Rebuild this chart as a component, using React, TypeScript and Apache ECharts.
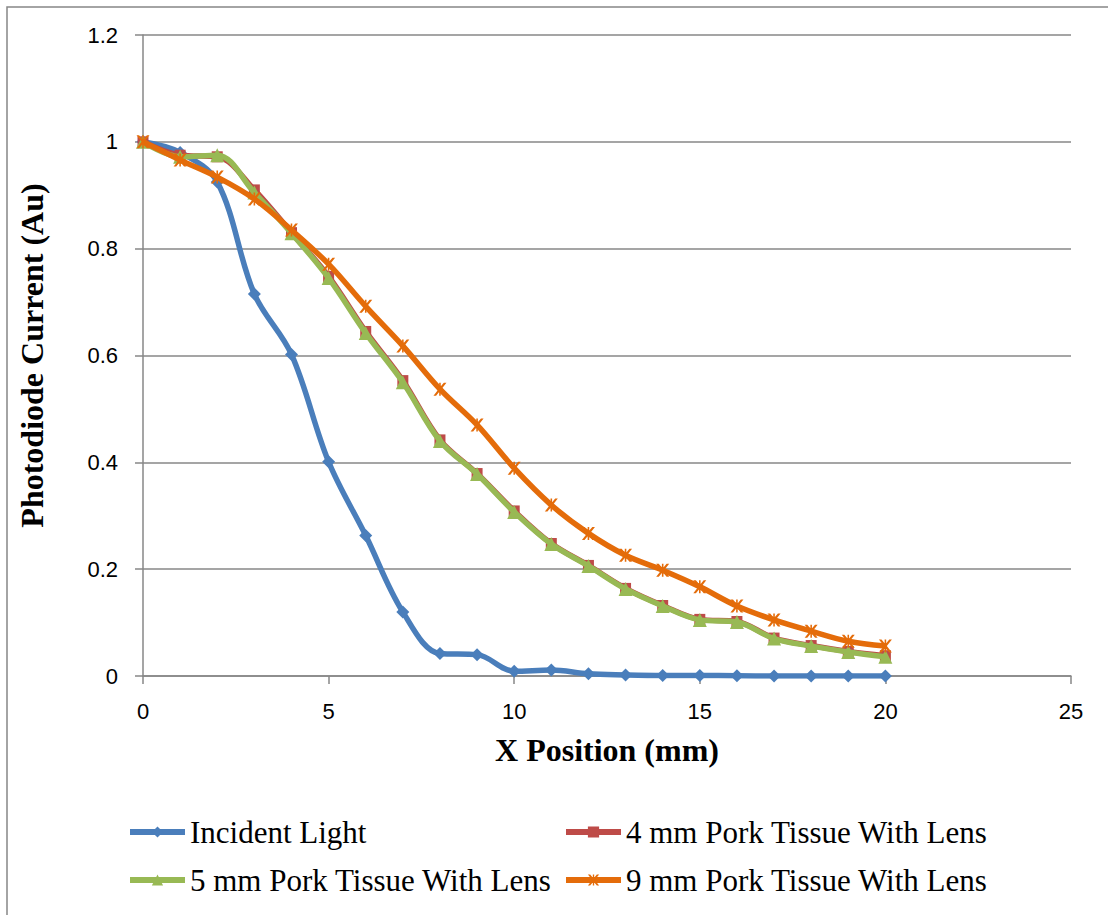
import React, { useEffect, useRef } from "react";
import * as echarts from "echarts";

const xPositions = [0, 1, 2, 3, 4, 5, 6, 7, 8, 9, 10, 11, 12, 13, 14, 15, 16, 17, 18, 19, 20];
const incidentLight = [1, 0.98, 0.925, 0.715, 0.602, 0.401, 0.263, 0.12, 0.042, 0.04, 0.009, 0.011, 0.004, 0.002, 0.001, 0.001, 0.0005, 0, 0, 0, 0];
const pork4mm = [1, 0.975, 0.972, 0.91, 0.83, 0.748, 0.645, 0.553, 0.442, 0.379, 0.309, 0.248, 0.207, 0.164, 0.132, 0.106, 0.102, 0.071, 0.057, 0.046, 0.038];
const pork5mm = [1, 0.972, 0.975, 0.905, 0.829, 0.745, 0.642, 0.55, 0.44, 0.378, 0.307, 0.247, 0.206, 0.163, 0.131, 0.105, 0.101, 0.07, 0.056, 0.045, 0.036];
const pork9mm = [1, 0.966, 0.934, 0.893, 0.835, 0.771, 0.692, 0.618, 0.537, 0.47, 0.389, 0.32, 0.267, 0.226, 0.198, 0.167, 0.131, 0.105, 0.084, 0.065, 0.056];

const seriesNames = [
  "Incident Light",
  "4 mm Pork Tissue With Lens",
  "5 mm Pork Tissue With Lens",
  "9 mm Pork Tissue With Lens",
];
const xTitle = "X Position (mm)";
const yTitle = "Photodiode Current (Au)";

const starPath =
  "path://M0,0 L2,0 L5,3.6 L8,0 L10,0 L6.1,5 L10,10 L8,10 L5,6.4 L2,10 L0,10 L3.9,5 Z M4.4,0 L5.6,0 L5.6,10 L4.4,10 Z";

function pairs(ys: number[]) {
  return xPositions.map((x, i) => [x, ys[i]]);
}

export default function App() {
  const ref = useRef<HTMLDivElement>(null);
  useEffect(() => {
    if (!ref.current) return;
    const chart = echarts.init(ref.current, null, { renderer: "svg" });
    const gray = "#878787";
    const serif = "'Liberation Serif', 'Times New Roman', serif";
    const sans = "'Liberation Sans', Arial, sans-serif";
    const colors = ["#4A7EBB", "#BE4B48", "#98B954", "#E46C0A"];
    const symbols = ["diamond", "rect", "triangle", starPath];
    const sizes = [13, 11, 14, 13];
    const datasets = [incidentLight, pork4mm, pork5mm, pork9mm];
    const legendPos = [
      { left: 127, top: 815 },
      { left: 563, top: 815 },
      { left: 127, top: 863 },
      { left: 563, top: 863 },
    ];
    chart.setOption({
      animation: false,
      backgroundColor: "#ffffff",
      graphic: [
        {
          type: "rect",
          shape: { x: 7, y: 7, width: 1300, height: 1100 },
          style: { fill: "none", stroke: gray, lineWidth: 1.5 },
          silent: true,
        },
      ],
      grid: { left: 143, right: 37, top: 35, bottom: 239, containLabel: false },
      xAxis: {
        type: "value",
        min: 0,
        max: 25,
        interval: 5,
        name: xTitle,
        nameLocation: "middle",
        nameGap: 58,
        nameTextStyle: { fontFamily: serif, fontWeight: "bold", fontSize: 32, color: "#000" },
        axisLine: { show: true, lineStyle: { color: gray, width: 1.5 } },
        axisTick: { show: true, inside: false, length: 8, lineStyle: { color: gray, width: 1.5 } },
        axisLabel: { fontFamily: sans, fontSize: 22, color: "#000", margin: 24 },
        splitLine: { show: false },
      },
      yAxis: {
        type: "value",
        min: 0,
        max: 1.2,
        interval: 0.2,
        name: yTitle,
        nameLocation: "middle",
        nameGap: 95,
        nameRotate: 90,
        nameTextStyle: { fontFamily: serif, fontWeight: "bold", fontSize: 32, color: "#000" },
        axisLine: { show: true, lineStyle: { color: gray, width: 1.5 } },
        axisTick: { show: true, inside: false, length: 8, lineStyle: { color: gray, width: 1.5 } },
        axisLabel: {
          fontFamily: sans,
          fontSize: 22,
          color: "#000",
          margin: 25,
          formatter: (v: number) => String(Math.round(v * 10) / 10),
        },
        splitLine: { show: true, lineStyle: { color: gray, width: 1.5 } },
      },
      legend: legendPos.map((p, i) => ({
        data: [seriesNames[i]],
        left: p.left,
        top: p.top,
        padding: 0,
        itemWidth: 55,
        itemHeight: 14,
        itemGap: 0,
        lineStyle: { width: 6 },
        textStyle: { fontFamily: serif, fontSize: 31, color: "#000", lineHeight: 34 },
      })),
      series: datasets.map((d, i) => ({
        name: seriesNames[i],
        type: "line",
        data: pairs(d),
        smooth: 0.35,
        symbol: symbols[i],
        symbolSize: sizes[i],
        showSymbol: true,
        color: colors[i],
        lineStyle: { color: colors[i], width: 5.5 },
        itemStyle: { color: colors[i] },
        z: 2 + i,
      })),
    });
    return () => chart.dispose();
  }, []);
  return (
    <div
      ref={ref}
      style={{ position: "absolute", left: 0, top: 0, width: 1108, height: 915 }}
    />
  );
}
